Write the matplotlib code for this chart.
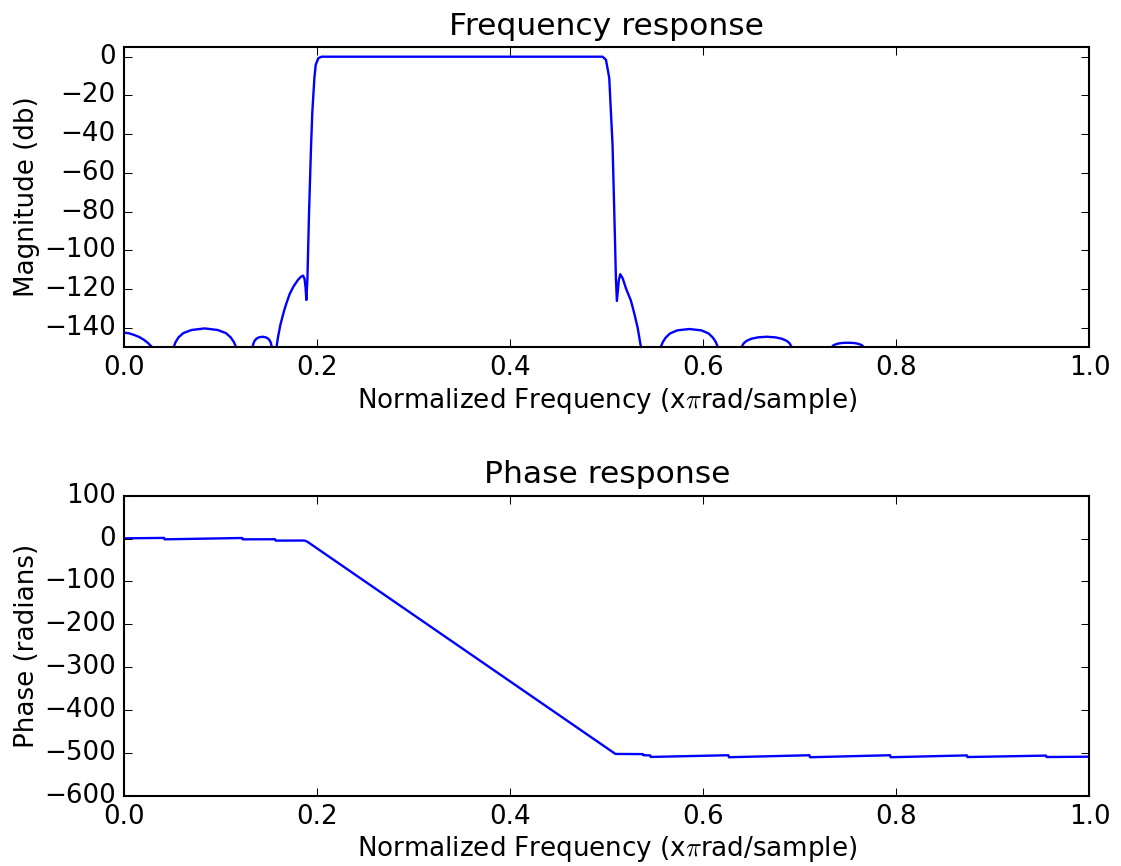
import matplotlib
matplotlib.use("Agg")
import matplotlib.pyplot as plt

# -------------------------------
# Data
# -------------------------------
# magnitude response (dB) vs normalized frequency
# (points below -150 dB are off the axes, only there so lobes dip out of view)
mag_freq = [0.000, 0.005, 0.0107, 0.016, 0.021, 0.025, 0.029, 0.040,
            # sidelobe 0.05-0.12
            0.0515, 0.0535, 0.0565, 0.0615, 0.070, 0.0835, 0.097, 0.1055, 0.1105, 0.1138, 0.116,
            0.124,
            # small sidelobe near 0.14
            0.1333, 0.1341, 0.1353, 0.1372, 0.1398, 0.1435, 0.1469, 0.1494, 0.1512, 0.1523, 0.153,
            0.1555,
            # transition band (left)
            0.158, 0.1595, 0.162, 0.1658, 0.1685, 0.1717, 0.1755, 0.1799, 0.1830, 0.1855,
            0.1870, 0.1880, 0.1889,
            0.1900, 0.1917, 0.1938, 0.1951, 0.1972, 0.1986, 0.2014, 0.2048,
            # passband
            0.300, 0.400, 0.4957,
            # transition band (right)
            0.4992, 0.5026, 0.5043, 0.5060, 0.5078, 0.5095, 0.5105, 0.5125, 0.5140,
            0.5165, 0.5199, 0.5250, 0.5285, 0.5320, 0.5354, 0.546,
            # sidelobe near 0.58
            0.556, 0.558, 0.561, 0.5655, 0.573, 0.5855, 0.598, 0.6055, 0.610, 0.613, 0.615,
            0.627,
            # sidelobe near 0.67
            0.6397, 0.6418, 0.6449, 0.650, 0.6568, 0.6656, 0.6744, 0.6812, 0.6863, 0.6894, 0.6915,
            0.712,
            # sidelobe near 0.75
            0.7333, 0.7346, 0.7366, 0.7398, 0.7441, 0.7496, 0.7551, 0.7594, 0.7626, 0.7646, 0.7658,
            0.780, 0.900, 1.000]
mag_db = [-142.6, -142.9, -143.8, -144.9, -146.4, -148.0, -150.0, -175.0,
          -150.0, -147.4, -145.0, -142.8, -141.2, -140.4, -141.2, -142.8, -145.0, -147.4, -150.0,
          -175.0,
          -150.0, -148.1, -146.8, -145.7, -145.0, -144.7, -145.0, -145.7, -146.8, -148.1, -150.0,
          -165.0,
          -150.0, -145.0, -138.5, -131.3, -127.0, -122.5, -118.8, -115.5, -113.8, -113.1,
          -114.8, -119.0, -125.7,
          -114.5, -80.0, -45.5, -28.3, -11.0, -4.1, -0.7, 0.0,
          0.0, 0.0, 0.0,
          -1.6, -11.0, -28.3, -45.5, -80.0, -114.5, -126.2, -115.5, -112.4,
          -114.5, -119.7, -126.0, -132.6, -140.0, -150.0, -175.0,
          -150.0, -147.5, -145.2, -143.0, -141.4, -140.7, -141.4, -143.0, -145.2, -147.5, -150.0,
          -175.0,
          -150.0, -148.1, -146.8, -145.7, -145.0, -144.7, -145.0, -145.7, -146.8, -148.1, -150.0,
          -175.0,
          -150.0, -149.2, -148.7, -148.2, -147.9, -147.8, -147.9, -148.2, -148.7, -149.2, -150.0,
          -175.0, -180.0, -175.0]

# unwrapped phase (radians)
phase_freq = [0.0, 0.0415, 0.042, 0.1225, 0.123, 0.1565, 0.157, 0.187, 0.190,
              0.509, 0.5375, 0.538, 0.545, 0.5455,
              0.626, 0.6265, 0.710, 0.7105, 0.7935, 0.794,
              0.873, 0.8735, 0.955, 0.9555, 1.0]
phase_rad = [0.5, 1.5, -1.8, 1.3, -1.8, -1.6, -4.8, -4.6, -7.5,
             -502.6, -503.0, -505.6, -506.0, -509.6,
             -505.6, -510.3, -505.6, -510.3, -505.6, -510.3,
             -506.0, -509.8, -506.5, -509.8, -509.0]

freq_ticks = [0.0, 0.2, 0.4, 0.6, 0.8, 1.0]
mag_ticks = [0, -20, -40, -60, -80, -100, -120, -140]
phase_ticks = [100, 0, -100, -200, -300, -400, -500, -600]

# -------------------------------
# Style (old matplotlib look)
# -------------------------------
plt.style.use("classic")
plt.rcParams.update({
    "font.size": 18.8,
    "axes.titlesize": 22.6,
    "axes.labelsize": 18.8,
    "axes.labelpad": 3.0,
    "xtick.labelsize": 18.8,
    "ytick.labelsize": 18.8,
    "lines.linewidth": 1.7,
    "axes.linewidth": 1.5,
    "xtick.major.size": 6,
    "ytick.major.size": 6,
    "xtick.major.width": 0.75,
    "ytick.major.width": 0.75,
    "xtick.major.pad": 6,
    "ytick.major.pad": 6,
    "figure.facecolor": "white",
    "savefig.facecolor": "white",
})

fig = plt.figure(figsize=(11.21, 8.66), dpi=100)
ax1 = fig.add_axes([0.1106, 0.5993, 0.8613, 0.3464])
ax2 = fig.add_axes([0.1106, 0.0812, 0.8613, 0.3464])

xlabel = r"Normalized Frequency (x$\pi$rad/sample)"

# magnitude
ax1.plot(mag_freq, mag_db, color="b")
ax1.set_xlim(0, 1)
ax1.set_ylim(-150, 5)
ax1.set_xticks(freq_ticks)
ax1.set_yticks(mag_ticks)
ax1.set_title("Frequency response", pad=9)
ax1.set_xlabel(xlabel)
ax1.set_ylabel("Magnitude (db)")

# phase
ax2.plot(phase_freq, phase_rad, color="b")
ax2.set_xlim(0, 1)
ax2.set_ylim(-600, 100)
ax2.set_xticks(freq_ticks)
ax2.set_yticks(phase_ticks)
ax2.set_title("Phase response", pad=9)
ax2.set_xlabel(xlabel)
ax2.set_ylabel("Phase (radians)")

fig.savefig("out.png", dpi=100)
